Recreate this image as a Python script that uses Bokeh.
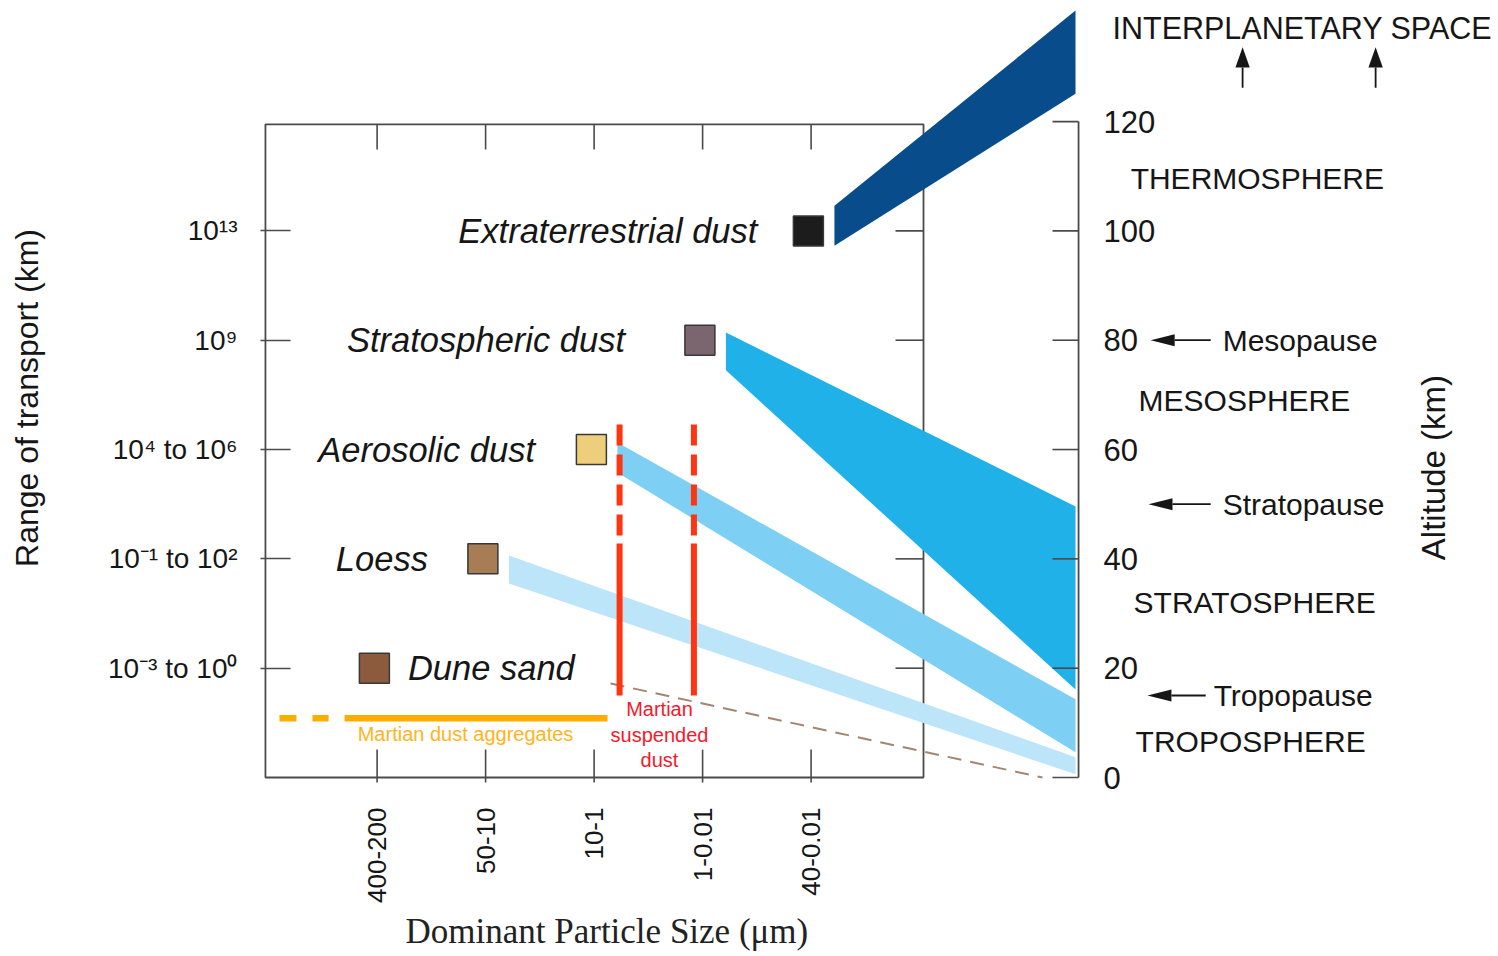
import math
from bokeh.plotting import figure
from bokeh.models import Range1d, FixedTicker, Title
from bokeh.core.properties import value
from bokeh.embed import file_html
from bokeh.resources import INLINE

# ---------------- data ----------------
size_labels = ["400-200", "50-10", "10-1", "1-0.01", "40-0.01"]
size_pos = [1, 2, 3, 4, 5]

transport_labels = ["10\u207b\u00b3 to 10\u2070", "10\u207b\u00b9 to 10\u00b2",
                    "10\u2074 to 10\u2076", "10\u2079", "10\u00b9\u00b3"]
transport_alt = [20, 40, 60, 80, 100]          # km, altitude matching each range

dust_types = ["Dune sand", "Loess", "Aerosolic dust", "Stratospheric dust", "Extraterrestrial dust"]
dust_size = [1, 2, 3, 4, 5]
dust_level = [20, 40, 60, 80, 100]
dust_colors = ["#8c5b3e", "#a87c54", "#ecce7b", "#7b6670", "#1c1c1c"]

band_types = ["Loess", "Aerosolic dust", "Stratospheric dust", "Extraterrestrial dust"]
band_size = [2, 3, 4, 5]
band_start_top = [40.6, 61.3, 81.4, 104.6]
band_start_bottom = [35.5, 55.8, 74.5, 97.3]
band_end_low = [0.6, 4.6, 16.1, 125.1]
band_end_high = [3.7, 14.3, 49.6, 140.3]
band_colors = ["#bce5f9", "#7dd0f4", "#1fb1e8", "#084c8c"]

altitude_ticks = [0, 20, 40, 60, 80, 100, 120]
layers = ["THERMOSPHERE", "MESOSPHERE", "STRATOSPHERE", "TROPOSPHERE"]
layer_alt = [109.6, 69.0, 32.0, 6.6]
pauses = ["Mesopause", "Stratopause", "Tropopause"]
pause_alt = [80, 50, 15]

susp_size = [3.235, 3.92]        # Martian suspended dust bounds (size axis)
susp_top, susp_solid_top, susp_bottom = 64.6, 42.8, 15.0
agg_start, agg_solid_start, agg_end = 0.10, 0.70, 3.124
agg_level = 10.85
settle_x = [3.152, 7.133]
settle_y = [17.2, 0.0]

# ---------------- layout ----------------
W, H = 1497, 955
PX_X, PX_Y = 108.5, 5.466
FRAME_BOTTOM_PX = 795
X0 = -0.047
Y0 = -(FRAME_BOTTOM_PX - 777) / PX_Y
BL = 263
BB = H - FRAME_BOTTOM_PX
fw, fh = W - BL, H - BB

p = figure(width=W, height=H,
           x_range=Range1d(X0, X0 + fw / PX_X), y_range=Range1d(Y0, Y0 + fh / PX_Y),
           min_border_left=BL, min_border_right=0, min_border_top=0, min_border_bottom=BB,
           toolbar_location=None, output_backend="svg")
p.outline_line_color = None
p.xgrid.visible = False
p.ygrid.visible = False
p.background_fill_color = "white"
p.border_fill_color = "white"

AXC = "#4a4a4a"
TXT = "#161616"
SANS = "Liberation Sans"

# bottom axis (particle size) - labels only, ticks drawn on the box
xa = p.xaxis[0]
xa.ticker = FixedTicker(ticks=size_pos)
xa.major_label_overrides = {s: l for s, l in zip(size_pos, size_labels)}
xa.major_label_orientation = math.pi / 2
xa.major_label_text_font = SANS
xa.major_label_text_font_size = "26px"
xa.major_label_text_color = TXT
xa.major_label_standoff = 12
xa.axis_line_color = None
xa.major_tick_line_color = None
xa.major_tick_in = 0
xa.major_tick_out = 0
xa.minor_tick_line_color = None

# left axis (range of transport)
ya = p.yaxis[0]
ya.ticker = FixedTicker(ticks=transport_alt)
ya.major_label_overrides = {a: l for a, l in zip(transport_alt, transport_labels)}
ya.major_label_text_font = SANS
ya.major_label_text_font_size = "28px"
ya.major_label_text_color = TXT
ya.major_label_standoff = 23
ya.axis_line_color = None
ya.major_tick_in = 27
ya.major_tick_out = 3
ya.major_tick_line_color = AXC
ya.major_tick_line_width = 1.6
ya.minor_tick_line_color = None
ya.axis_label = "Range of transport (km)"
ya.axis_label_text_font = SANS
ya.axis_label_text_font_size = "32px"
ya.axis_label_text_font_style = "normal"
ya.axis_label_text_color = TXT
ya.axis_label_standoff = 60

p.add_layout(Title(text="Dominant Particle Size (\u03bcm)", align="left", offset=142,
                   text_font="Liberation Serif", text_font_size="35px",
                   text_font_style="normal", text_color="#222222", standoff=8), "below")

# main box and its inner ticks
BOX_L, BOX_R, BOX_T, BOX_B = -0.029, 6.036, 119.5, 0.0
p.quad(left=[BOX_L], right=[BOX_R], bottom=[BOX_B], top=[BOX_T],
       fill_color=None, line_color=AXC, line_width=1.8)
p.segment(x0=size_pos, y0=[BOX_T] * 5, x1=size_pos, y1=[BOX_T - 4.6] * 5,
          line_color=AXC, line_width=1.6)
p.segment(x0=size_pos, y0=[BOX_B - 0.9] * 5, x1=size_pos, y1=[BOX_B + 5.1] * 5,
          line_color=AXC, line_width=1.6)
p.segment(x0=[BOX_R - 0.258] * 5, y0=transport_alt, x1=[BOX_R] * 5, y1=transport_alt,
          line_color=AXC, line_width=1.6)

# settling line
p.line(settle_x, settle_y, line_color="#a58472", line_width=2, line_dash="14 9")

# transport bands
GAP = 0.215
END_X = 7.437
xs, ys = [], []
for s, st, sb, el, eh in zip(band_size, band_start_top, band_start_bottom, band_end_low, band_end_high):
    xs.append([s + GAP, END_X, END_X, s + GAP])
    ys.append([st, eh, el, sb])
p.patches(xs, ys, fill_color=band_colors, line_color=None)

# dust squares
SQ_DX = -0.025
p.scatter([s + SQ_DX for s in dust_size], dust_level, marker="square", size=30,
          fill_color=dust_colors, line_color="#383838", line_width=1.5)

# dust labels
label_dx = [0.309, -0.507, -0.52, -0.69, -0.47]
label_align = ["left", "right", "right", "right", "right"]
for name, s, lv, dx, al in zip(dust_types, dust_size, dust_level, label_dx, label_align):
    p.text([s + SQ_DX + dx], [lv], text=[name], text_align=al, text_baseline="middle",
           text_font=value(SANS), text_font_style="italic", text_font_size="34.5px",
           text_color=TXT)

# Martian suspended dust lines
RED = "#ff3410"
p.segment(x0=susp_size, y0=[susp_top] * 2, x1=susp_size, y1=[susp_solid_top] * 2,
          line_color=RED, line_width=6, line_dash="21 9")
p.segment(x0=susp_size, y0=[susp_solid_top] * 2, x1=susp_size, y1=[susp_bottom] * 2,
          line_color=RED, line_width=6)
p.text([3.603], [7.8], text=["Martian\nsuspended\ndust"], text_align="center",
       text_baseline="middle", text_font=value(SANS), text_font_size="20px",
       text_line_height=1.16, text_color="#f5192b")

# Martian dust aggregates
ORG = "#ffad00"
p.segment(x0=[agg_start], y0=[agg_level], x1=[agg_solid_start - 0.147], y1=[agg_level],
          line_color=ORG, line_width=6.5, line_dash="17 16")
p.segment(x0=[agg_solid_start], y0=[agg_level], x1=[agg_end], y1=[agg_level],
          line_color=ORG, line_width=6.5)
p.text([1.815], [7.9], text=["Martian dust aggregates"], text_align="center",
       text_baseline="middle", text_font=value(SANS), text_font_size="20px",
       text_color="#ffb41c")

# altitude axis (right)
AX = 7.465
p.segment(x0=[AX], y0=[0], x1=[AX], y1=[120], line_color=AXC, line_width=1.8)
p.segment(x0=[AX - 0.24] * len(altitude_ticks), y0=altitude_ticks,
          x1=[AX] * len(altitude_ticks), y1=altitude_ticks, line_color=AXC, line_width=1.6)
p.text([7.696] * len(altitude_ticks), altitude_ticks, text=[str(a) for a in altitude_ticks],
       text_align="left", text_baseline="middle", text_font=value(SANS),
       text_font_size="31px", text_color=TXT)

layer_x = [7.945, 8.018, 7.972, 7.991]
p.text(layer_x, layer_alt, text=layers, text_align="left", text_baseline="middle",
       text_font=value(SANS), text_font_size="30px", text_color=TXT)

pause_text_x = [8.793, 8.793, 8.71]
pause_tail = [8.683, 8.683, 8.637]
pause_tip = [8.13, 8.11, 8.10]
p.text(pause_text_x, pause_alt, text=pauses, text_align="left", text_baseline="middle",
       text_font=value(SANS), text_font_size="30px", text_color=TXT)

HL_X = 0.221   # head length along x (size units)
HW_Y = 1.1     # head half width (km)
p.segment(x0=pause_tail, y0=pause_alt, x1=[t + HL_X for t in pause_tip], y1=pause_alt,
          line_color=TXT, line_width=1.8)
p.patches([[t, t + HL_X, t + HL_X] for t in pause_tip],
          [[a, a + HW_Y, a - HW_Y] for a in pause_alt], fill_color=TXT, line_color=None)

# interplanetary space
p.text([7.778], [137.2], text=["INTERPLANETARY SPACE"], text_align="left",
       text_baseline="middle", text_font=value(SANS), text_font_size="30.5px", text_color=TXT)
up_x = [8.977, 10.203]
UP_TAIL, UP_TIP = 126.2, 133.6
HL_Y, HW_X = 3.7, 0.066
p.segment(x0=up_x, y0=[UP_TAIL] * 2, x1=up_x, y1=[UP_TIP - HL_Y] * 2,
          line_color=TXT, line_width=1.8)
p.patches([[x, x - HW_X, x + HW_X] for x in up_x],
          [[UP_TIP, UP_TIP - HL_Y, UP_TIP - HL_Y] for _ in up_x], fill_color=TXT, line_color=None)

p.text([10.737], [56.7], text=["Altitude (km)"], angle=math.pi / 2, text_align="center",
       text_baseline="middle", text_font=value(SANS), text_font_size="33px", text_color=TXT)

open("out.html", "w").write(file_html(p, INLINE))
